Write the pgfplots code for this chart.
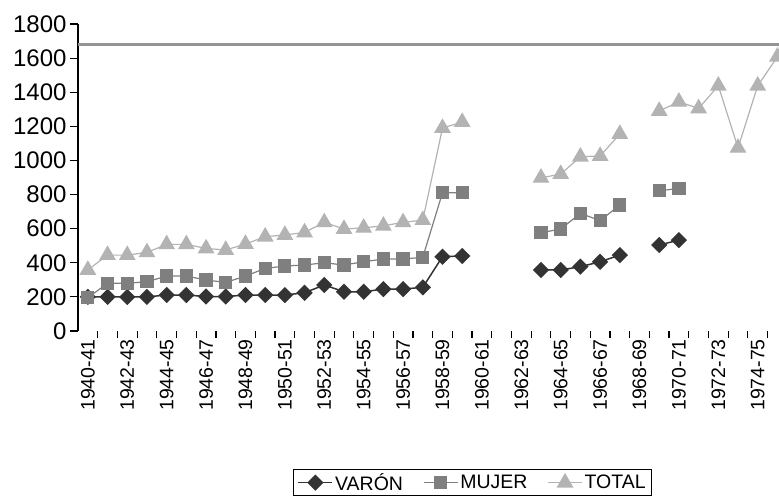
\documentclass[border=0pt]{standalone}
\usepackage{fontspec}
\setmainfont{Liberation Sans}
\usepackage{pgfplots}
\pgfplotsset{compat=1.18}
\usepackage{pgfplotstable}

\definecolor{varon}{HTML}{333333}
\definecolor{mujer}{HTML}{7F7F7F}
\definecolor{total}{HTML}{B3B3B3}
\definecolor{refline}{HTML}{949494}

% curso (0 = 1940-41), VARON, MUJER, TOTAL
\pgfplotstableread{
i  varon mujer total
0  200   195   358
1  200   280   445
2  200   280   445
3  200   289   461
4  211   322   508
5  211   322   508
6  202   299   484
7  202   285   475
8  211   322   510
9  211   367   553
10 211   381   563
11 224   387   578
12 270   400   637
13 230   387   598
14 230   406   605
15 246   422   617
16 246   422   637
17 256   432   650
18 436   811   1190
19 440   811   1225
20 nan   nan   nan
21 nan   nan   nan
22 nan   nan   nan
23 358   576   898
24 358   598   920
25 377   690   1022
26 406   647   1026
27 445   739   1155
28 nan   nan   nan
29 504   822   1290
30 533   836   1344
31 nan   nan   1305
32 nan   nan   1438
33 nan   nan   1074
34 nan   nan   1438
35 nan   nan   1608
}\datos

\begin{document}
\begin{tikzpicture}
\useasboundingbox (-78pt,-167pt) rectangle (701pt,331pt);
\begin{axis}[
    at={(0pt,0pt)}, anchor=south west,
    scale only axis,
    width=701pt, height=307pt,
    xmin=-0.5, xmax=35.08,
    ymin=0, ymax=1800,
    axis y line*=left,
    axis x line*=bottom,
    x axis line style={draw=none},
    y axis line style={line width=1.3pt, black},
    tick align=outside,
    major tick length=8pt,
    minor tick length=7pt,
    every tick/.style={black, line width=1.2pt},
    major x tick style={draw=none},
    ytick={0,200,...,1800},
    xtick={0,2,...,34},
    minor xtick={0.5,1.5,...,34.5},
    xticklabels={1940-41,1942-43,1944-45,1946-47,1948-49,1950-51,1952-53,
                 1954-55,1956-57,1958-59,1960-61,1962-63,1964-65,1966-67,
                 1968-69,1970-71,1972-73,1974-75},
    x tick label style={rotate=90, anchor=east, inner sep=0pt,
                        font=\fontsize{19.5}{19.5}\selectfont},
    y tick label style={font=\fontsize{24}{24}\selectfont},
    /pgf/number format/assume math mode=true,
    /pgf/number format/1000 sep={},
    unbounded coords=jump,
    legend columns=-1,
    legend style={at={(0.563,-0.494)}, anchor=center, draw=black,
                  line width=1pt, inner xsep=4pt, inner ysep=1.5pt,
                  font=\fontsize{19.5}{19.5}\selectfont,
                  /tikz/every even column/.append style={column sep=18pt}},
    legend image code/.code={%
        \draw[mark repeat=2, mark phase=2]
        plot coordinates {(0pt,0pt) (17pt,0pt) (34pt,0pt)};},
  ]
\addplot[varon, line width=1.5pt, mark=square*, mark size=5pt,
         mark options={rotate=45, solid}]
  table[x=i, y=varon] {\datos};
\addlegendentry{VARÓN}
\addplot[mujer, line width=1.2pt, mark=square*, mark size=6pt,
         mark options={solid}]
  table[x=i, y=mujer] {\datos};
\addlegendentry{MUJER}
\addplot[total, line width=1.2pt, mark=triangle*, mark size=8.5pt,
         mark options={solid}]
  table[x=i, y=total] {\datos};
\addlegendentry{TOTAL}
% linea de referencia
\addplot[refline, line width=3pt, forget plot]
  coordinates {(-0.5,1682) (35.08,1682)};
\end{axis}
\end{tikzpicture}
\end{document}
